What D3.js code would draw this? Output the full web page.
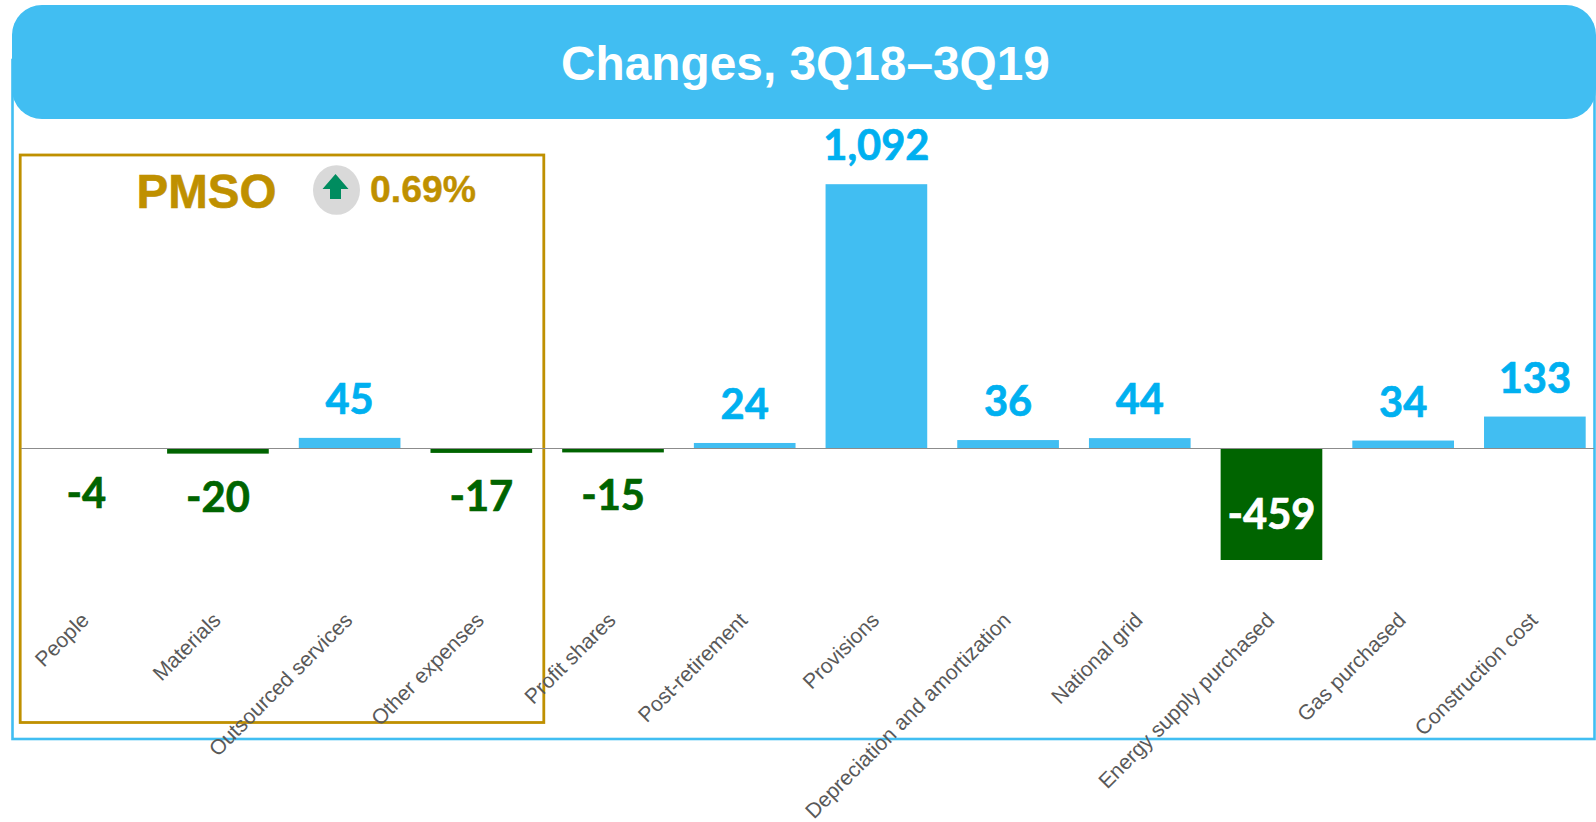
<!DOCTYPE html>
<html>
<head>
<meta charset="utf-8">
<title>Changes, 3Q18–3Q19</title>
<script src="https://cdn.jsdelivr.net/npm/d3@7"></script>
<style>
    body { margin: 0; background: #fff; }
    svg { display: block; }
</style>
</head>
<body>
<div id="chart"></div>
<script>
// Chart data
const categories = ['People', 'Materials', 'Outsourced services', 'Other expenses', 'Profit shares',
    'Post-retirement', 'Provisions', 'Depreciation and amortization', 'National grid',
    'Energy supply purchased', 'Gas purchased', 'Construction cost'];
const values = [-4, -20, 45, -17, -15, 24, 1092, 36, 44, -459, 34, 133];
const titleText = 'Changes, 3Q18–3Q19';
const pmsoLabel = 'PMSO';
const pmsoChange = '0.69%';

const width = 1596;
const height = 822;
const blue = '#41BEF2';
const labelBlue = '#00B0F0';
const green = '#006400';
const gold = '#BF9000';

const svg = d3.select('#chart')
    .append('svg')
    .attr('width', width)
    .attr('height', height);

// Scales
const x = d3.scaleBand()
    .domain(categories)
    .range([20.4, 1600.7])
    .paddingInner(0.228)
    .paddingOuter(0.114);

const y = d3.scaleLinear()
    .domain([-459, 1092])
    .range([560, 184.2]);

// Outer frame and header
svg.append('rect')
    .attr('x', 12.5)
    .attr('y', 60)
    .attr('width', 1582)
    .attr('height', 679)
    .attr('fill', 'none')
    .attr('stroke', blue)
    .attr('stroke-width', 2.6);

svg.append('rect')
    .attr('x', 12)
    .attr('y', 5)
    .attr('width', 1584)
    .attr('height', 114)
    .attr('rx', 30)
    .attr('fill', blue);

svg.append('text')
    .attr('x', 805.5)
    .attr('y', 79.5)
    .attr('text-anchor', 'middle')
    .style('font', 'bold 47.8px "Liberation Sans"')
    .style('fill', '#fff')
    .text(titleText);

// PMSO box
svg.append('rect')
    .attr('x', 20.2)
    .attr('y', 155)
    .attr('width', 523.6)
    .attr('height', 567.5)
    .attr('fill', 'none')
    .attr('stroke', gold)
    .attr('stroke-width', 2.8);

svg.append('text')
    .attr('x', 136.5)
    .attr('y', 208)
    .style('font', 'bold 47.5px "Liberation Sans"')
    .style('fill', gold)
    .style('stroke', gold)
    .style('stroke-width', 0.6)
    .text(pmsoLabel);

svg.append('ellipse')
    .attr('cx', 336.5)
    .attr('cy', 190)
    .attr('rx', 23.5)
    .attr('ry', 24.8)
    .attr('fill', '#D9D9D9');

svg.append('path')
    .attr('d', 'M335.5,174L348.5,189H341V199H330V189H322.5Z')
    .attr('fill', '#008C5F');

svg.append('text')
    .attr('x', 370)
    .attr('y', 202)
    .style('font', 'bold 37.4px "Liberation Sans"')
    .style('fill', gold)
    .style('stroke', gold)
    .style('stroke-width', 0.4)
    .text(pmsoChange);

// Bars (the -4 bar is too thin to show next to the axis line, same as the original)
svg.append('g')
    .selectAll('rect')
    .data(values.map((v, i) => ({ name: categories[i], value: v })).filter(d => Math.abs(d.value) > 5))
    .join('rect')
    .attr('x', d => x(d.name))
    .attr('y', d => y(Math.max(d.value, 0)))
    .attr('width', x.bandwidth())
    .attr('height', d => Math.abs(y(d.value) - y(0)))
    .attr('fill', d => d.value < 0 ? green : blue);

// Category axis with rotated labels, snapped to a whole pixel so the line stays sharp
const axis = svg.append('g')
    .attr('transform', `translate(0,${Math.floor(y(0)) + 0.5})`)
    .call(d3.axisBottom(x).tickSize(0));

axis.select('.domain')
    .attr('d', 'M21,0H1594')
    .attr('stroke', '#8C8C8C')
    .attr('stroke-width', 1);

axis.selectAll('text')
    .attr('x', 0)
    .attr('dy', 0)
    .attr('y', 0)
    .attr('text-anchor', 'end')
    .attr('transform', 'translate(4,173) rotate(-45)')
    .style('font', '21.1px "Liberation Sans"')
    .style('fill', '#595959');

// Value labels
svg.append('g')
    .selectAll('text')
    .data(values)
    .join('text')
    .attr('x', (d, i) => x(categories[i]) + x.bandwidth() / 2)
    .attr('y', d => {
        if (d >= 0) return y(d) - 24;
        if (d < -100) return y(d / 2) + 25;
        return y(d) + 58;
    })
    .attr('text-anchor', 'middle')
    .style('font', 'bold 41.6px Lato')
    .style('fill', d => d >= 0 ? labelBlue : (d < -100 ? '#fff' : green))
    .style('stroke', d => d >= 0 ? labelBlue : (d < -100 ? '#fff' : green))
    .style('stroke-width', 0.7)
    .text(d => (d < 0 ? '-' : '') + d3.format(',')(Math.abs(d)));
</script>
</body>
</html>
